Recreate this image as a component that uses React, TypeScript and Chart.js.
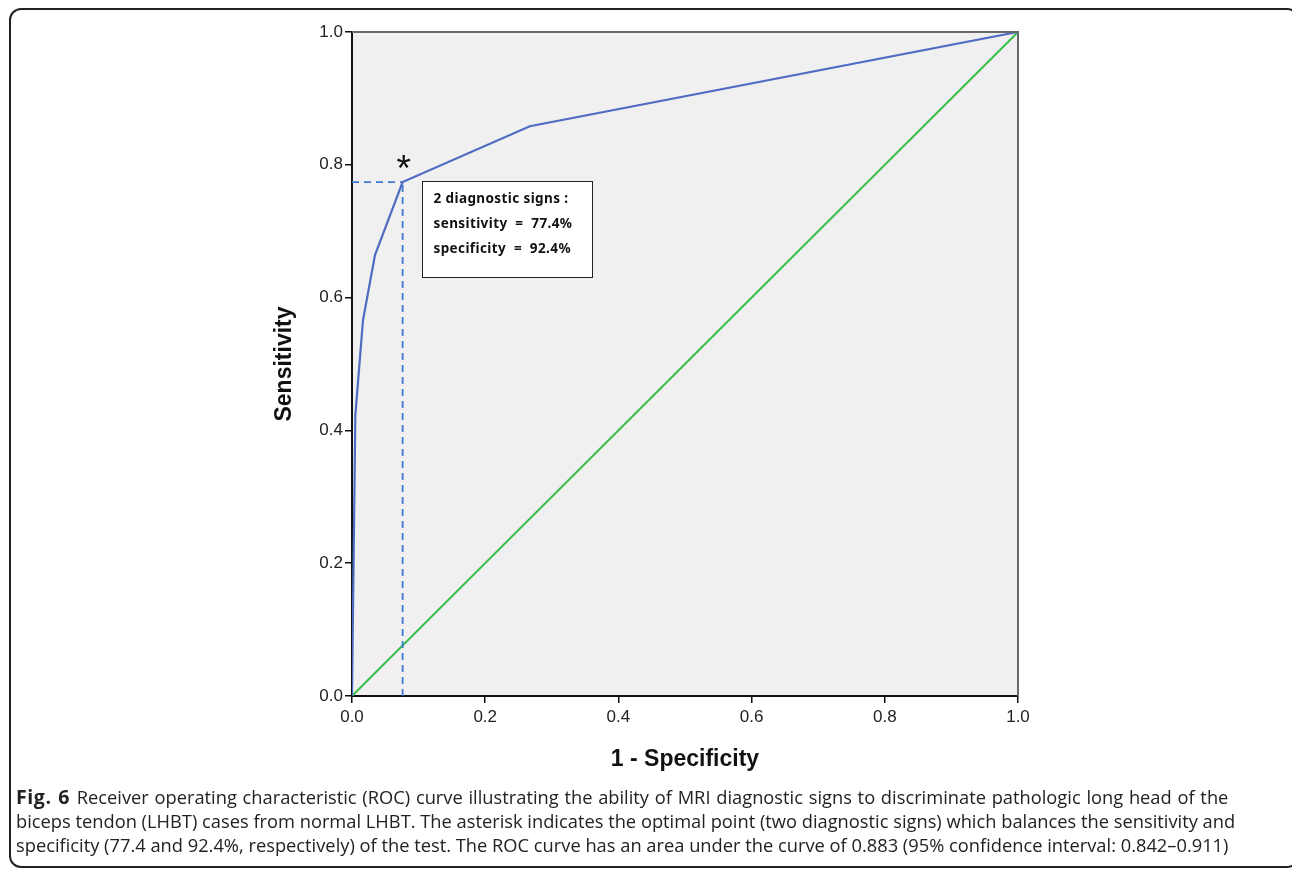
import React, { useEffect, useRef } from "react";
import { Chart, registerables } from "chart.js";

Chart.register(...registerables);

// ROC curve (1 - specificity, sensitivity)
const rocFpr = [0, 0.005, 0.0165, 0.0345, 0.076, 0.267, 1];
const rocTpr = [0, 0.423, 0.566, 0.664, 0.774, 0.858, 1];
// Reference (chance) line
const refFpr = [0, 1];
const refTpr = [0, 1];
// Optimal point (two diagnostic signs)
const optimalFpr = 0.076;
const optimalTpr = 0.774;
// Tick labels
const tickValues = [0, 0.2, 0.4, 0.6, 0.8, 1.0];
// Annotation text
const boxLines = ["2 diagnostic signs :", "sensitivity = 77.4%", "specificity = 92.4%"];
const boxFpr = [0.105, 0.36];
const boxTpr = [0.776, 0.631];

const captionLines = [
  "Receiver operating characteristic (ROC) curve illustrating the ability of MRI diagnostic signs to discriminate pathologic long head of the",
  "biceps tendon (LHBT) cases from normal LHBT. The asterisk indicates the optimal point (two diagnostic signs) which balances the sensitivity and",
  "specificity (77.4 and 92.4%, respectively) of the test. The ROC curve has an area under the curve of 0.883 (95% confidence interval: 0.842\u20130.911)",
];

const AXIS_FONT = '"Liberation Sans", Arial, sans-serif';

const overlayPlugin = {
  id: "overlay",
  beforeDraw(chart: any) {
    const { ctx, chartArea } = chart;
    ctx.save();
    ctx.fillStyle = "#f0f0f0";
    ctx.fillRect(chartArea.left, chartArea.top, chartArea.right - chartArea.left, chartArea.bottom - chartArea.top);
    ctx.restore();
  },
  afterDatasetsDraw(chart: any) {
    const { ctx, chartArea, scales } = chart;
    const x = scales.x;
    const y = scales.y;
    ctx.save();
    // top and right frame
    ctx.strokeStyle = "#6a6a6a";
    ctx.lineWidth = 2;
    ctx.beginPath();
    ctx.moveTo(chartArea.left, chartArea.top);
    ctx.lineTo(chartArea.right, chartArea.top);
    ctx.lineTo(chartArea.right, chartArea.bottom);
    ctx.stroke();

    // asterisk
    const px = x.getPixelForValue(optimalFpr);
    const py = y.getPixelForValue(optimalTpr);
    ctx.fillStyle = "#111";
    ctx.font = `37px ${AXIS_FONT}`;
    ctx.textAlign = "center";
    ctx.textBaseline = "alphabetic";
    ctx.fillText("*", px + 1, py - 1);

    // annotation box
    const bl = Math.round(x.getPixelForValue(boxFpr[0])) + 0.5;
    const br = Math.round(x.getPixelForValue(boxFpr[1])) + 0.5;
    const bt = Math.round(y.getPixelForValue(boxTpr[0])) + 0.5;
    const bb = Math.round(y.getPixelForValue(boxTpr[1])) + 0.5;
    ctx.fillStyle = "#ffffff";
    ctx.fillRect(bl, bt, br - bl, bb - bt);
    ctx.strokeStyle = "#222";
    ctx.lineWidth = 1;
    ctx.strokeRect(bl, bt, br - bl, bb - bt);
    ctx.fillStyle = "#111";
    ctx.font = `bold 13.5px "Noto Sans", sans-serif`;
    (ctx as any).letterSpacing = "0.4px";
    ctx.textAlign = "left";
    ctx.textBaseline = "middle";
    boxLines.forEach((t, i) => {
      ctx.fillText(t.replace(" = ", "  =  "), bl + 11, bt + 18 + i * 25);
    });
    ctx.restore();
  },
};

export default function App() {
  const canvasRef = useRef<HTMLCanvasElement | null>(null);

  useEffect(() => {
    const canvas = canvasRef.current;
    if (!canvas) return;
    const toPts = (xs: number[], ys: number[]) => xs.map((v, i) => ({ x: v, y: ys[i] }));

    const chart = new Chart(canvas, {
      type: "line",
      data: {
        datasets: [
          {
            label: "ROC",
            data: toPts(rocFpr, rocTpr),
            borderColor: "#4f6cc2",
            borderWidth: 2.2,
            pointRadius: 0,
            tension: 0,
            fill: false,
          },
          {
            label: "optH",
            data: toPts([0, optimalFpr], [optimalTpr, optimalTpr]),
            borderColor: "#3b7ad0",
            borderWidth: 1.8,
            borderDash: [7, 5],
            pointRadius: 0,
            fill: false,
          },
          {
            label: "optV",
            data: toPts([optimalFpr, optimalFpr], [0, optimalTpr]),
            borderColor: "#3b7ad0",
            borderWidth: 1.8,
            borderDash: [7, 5],
            pointRadius: 0,
            fill: false,
          },
          {
            label: "Reference",
            data: toPts(refFpr, refTpr),
            borderColor: "#3dbd4b",
            borderWidth: 2,
            pointRadius: 0,
            fill: false,
          },
        ],
      },
      options: {
        animation: false,
        responsive: false,
        devicePixelRatio: 1,
        parsing: false as any,
        layout: { padding: { left: 271, right: 274, top: 32, bottom: 95 } },
        plugins: { legend: { display: false }, tooltip: { enabled: false } },
        scales: {
          x: {
            type: "linear",
            min: 0,
            max: 1,
            afterBuildTicks: (s: any) => {
              s.ticks = tickValues.map((v) => ({ value: v }));
            },
            afterFit: (s: any) => {
              s.height = 80;
            },
            ticks: {
              autoSkip: false,
              maxRotation: 0,
              padding: 4,
              color: "#222",
              font: { family: AXIS_FONT, size: 17 },
              callback: (v: any) => Number(v).toFixed(1),
            },
            grid: { drawOnChartArea: false, drawTicks: true, tickLength: 7, color: "#111", lineWidth: 1.5 },
            border: { display: true, color: "#111", width: 2 },
            title: {
              display: true,
              text: "1 - Specificity",
              color: "#111",
              font: { family: AXIS_FONT, size: 23, weight: "bold" },
              padding: { top: 0, bottom: 3 },
            },
          },
          y: {
            type: "linear",
            min: 0,
            max: 1,
            afterBuildTicks: (s: any) => {
              s.ticks = tickValues.map((v) => ({ value: v }));
            },
            afterFit: (s: any) => {
              s.width = 81;
            },
            ticks: {
              autoSkip: false,
              padding: 2,
              color: "#222",
              font: { family: AXIS_FONT, size: 17 },
              callback: (v: any) => Number(v).toFixed(1),
            },
            grid: { drawOnChartArea: false, drawTicks: true, tickLength: 7, color: "#111", lineWidth: 1.5 },
            border: { display: true, color: "#111", width: 2 },
            title: {
              display: true,
              text: "Sensitivity",
              color: "#111",
              font: { family: AXIS_FONT, size: 23, weight: "bold" },
              padding: { top: 0, bottom: 0 },
            },
          },
        },
      },
      plugins: [overlayPlugin],
    } as any);

    return () => chart.destroy();
  }, []);

  return (
    <div style={{ position: "fixed", left: 0, top: 0, width: 1292, height: 871, background: "#fff", overflow: "hidden" }}>
      <div
        style={{
          position: "absolute",
          left: 9,
          top: 8,
          width: 1290,
          height: 860,
          border: "2px solid #222",
          borderRadius: 12,
          boxSizing: "border-box",
        }}
      />
      <canvas
        ref={canvasRef}
        width={1292}
        height={871}
        style={{ position: "absolute", left: 0, top: 0, width: 1292, height: 871 }}
      />
      <div
        style={{
          position: "absolute",
          left: 16,
          top: 785,
          fontFamily: '"Open Sans", sans-serif',
          fontSize: 18.3,
          lineHeight: "24px",
          color: "#222",
          whiteSpace: "nowrap",
        }}
      >
        {captionLines.map((line, i) => (
          <div key={i} style={i === 0 ? { wordSpacing: "1px" } : undefined}>
            {i === 0 ? <b style={{ fontSize: 19.5, letterSpacing: "0.6px" }}>Fig. 6 </b> : null}
            {line}
          </div>
        ))}
      </div>
    </div>
  );
}
